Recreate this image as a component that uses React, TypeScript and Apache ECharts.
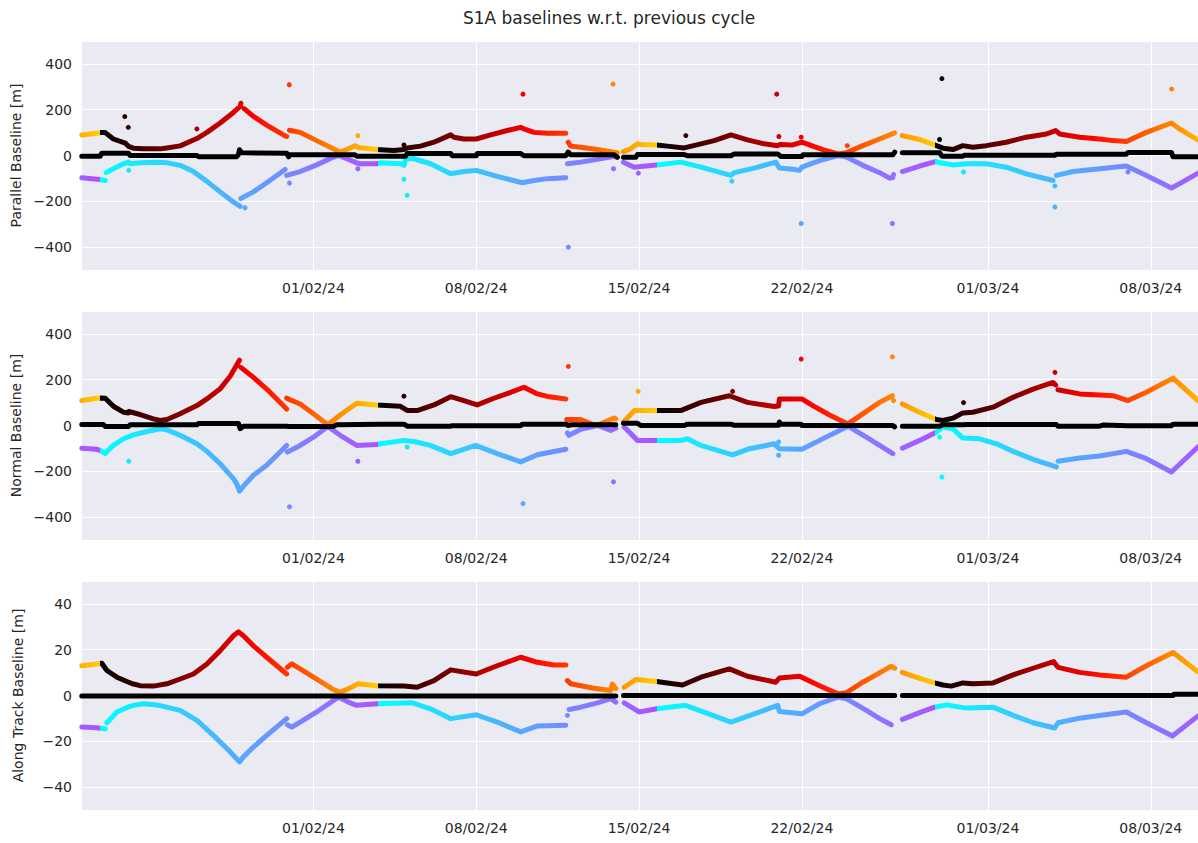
import React, { useEffect, useRef } from "react";
import * as echarts from "echarts";

// x values: days since 2024-01-01 (31 = 01/02/24)
const TITLE = "S1A baselines w.r.t. previous cycle";
const Y_NAMES = ["Parallel Baseline [m]", "Normal Baseline [m]", "Along Track Baseline [m]"];
const X_TICKS = [31, 38, 45, 52, 60, 67];
const X_MIN = 21.05;
const X_MAX = 69.03;
const Y_RANGES = [[-500, 500], [-500, 500], [-50, 50]];
const CYCLE_STARTS = [9.85, 21.82, 33.79, 45.76, 57.73, 69.7];

type Seg = number[][];

const PAR_POS: Seg[] = [
  [[21.04,90],[21.69,97],[21.83,100],[22.05,100],[22.40,72],[22.91,54],[23.05,40],[23.26,32],[23.69,29],[24.41,29],[24.70,33],[25.27,42],[25.99,74],[26.42,101],[26.99,142],[27.56,188],[27.85,214],[27.88,228]],
  [[28.02,205],[28.42,171],[28.99,133],[29.71,90],[29.85,83]],
  [[29.97,110],[30.43,101],[31.14,65],[31.86,29],[32.15,14],[32.43,26],[32.79,43],[32.93,35],[33.72,26],[33.88,25],[34.46,22],[34.89,26],[35.03,33],[35.60,41],[36.18,58],[36.90,90],[37.04,80],[37.47,72],[38.00,72],[38.62,90],[39.33,109],[39.91,123],[40.05,116],[40.48,101],[41.06,97],[41.85,97]],
  [[41.95,58],[42.06,41],[42.49,36],[43.21,26],[43.93,14],[44.07,12]],
  [[44.33,17],[44.64,29],[44.93,51],[45.07,48],[45.76,46],[46.22,41],[46.94,33],[47.66,51],[48.23,65],[48.95,90],[49.66,68],[50.38,51],[50.96,43],[51.04,48],[51.61,46],[52.00,58],[52.47,41],[52.90,26],[53.55,7],[53.91,12],[54.62,43],[55.34,72],[55.99,99]],
  [[56.32,87],[57.06,70],[57.78,43],[58.06,32],[58.49,26],[58.92,43],[59.35,36],[59.93,43],[60.79,58],[61.65,80],[62.51,94],[62.91,109],[63.08,94],[63.94,80],[64.80,72],[65.38,65],[65.95,61],[66.81,101],[67.89,142],[68.24,116],[69.02,68]],
];
const PAR_ZERO: Seg[] = [
  [[21.04,-3],[21.83,-3],[21.90,10],[23.05,10],[23.12,0],[25.99,0],[26.06,-5],[27.70,-5],[27.78,5],[27.82,25],[27.92,12],[29.85,10],[29.93,-6],[29.97,3],[32.79,3],[32.86,-3],[34.96,-3],[35.03,9],[36.90,9],[36.97,-1],[38.00,-1],[38.04,9],[39.91,9],[40.05,-1],[41.85,-1],[41.95,15],[42.06,3],[43.93,3],[44.07,-8]],
  [[44.33,-8],[44.86,-8],[44.93,4],[46.94,4],[47.08,-1],[48.95,-1],[49.09,7],[50.96,7],[51.10,-4],[52.00,-4],[52.05,3],[55.91,3],[55.99,15]],
  [[56.32,12],[57.92,12],[58.02,-3],[58.92,-3],[58.99,1],[62.88,1],[62.94,6],[65.95,6],[66.02,13],[67.89,13],[67.96,-6],[69.02,-6]],
];
const PAR_NEG: Seg[] = [
  [[21.04,-97],[21.69,-104],[21.76,-104],[22.05,-109]],
  [[22.09,-75],[22.40,-58],[22.83,-36],[23.05,-29],[23.12,-36],[23.55,-32],[24.27,-29],[24.70,-32],[25.27,-43],[25.84,-70],[26.42,-113],[26.99,-159],[27.56,-203],[27.85,-222]],
  [[27.88,-188],[28.42,-159],[28.99,-119],[29.78,-61]],
  [[29.85,-87],[30.43,-70],[31.14,-41],[31.86,-7],[32.07,0],[32.43,-14],[32.86,-32],[32.98,-36],[33.72,-36],[33.88,-32],[34.74,-36],[34.89,-43],[34.96,-17],[35.25,-12],[36.03,-36],[36.90,-80],[37.47,-70],[38.00,-65],[38.90,-91],[39.98,-119],[40.48,-109],[41.06,-101],[41.85,-97]],
  [[41.92,-36],[42.49,-29],[43.21,-17],[43.93,-3],[44.00,-7]],
  [[44.33,-29],[44.79,-51],[45.07,-48],[45.76,-41],[46.79,-29],[47.66,-51],[48.95,-87],[49.09,-75],[49.95,-55],[50.88,-29],[51.03,-55],[51.61,-60],[51.90,-65],[52.00,-51],[52.76,-22],[53.55,0],[53.91,-7],[54.62,-43],[55.34,-75],[55.77,-99],[55.91,-96]],
  [[56.32,-70],[57.06,-46],[57.78,-26],[57.92,-32],[58.49,-41],[59.07,-36],[59.93,-36],[60.79,-51],[61.65,-80],[62.80,-109]],
  [[62.94,-87],[63.66,-70],[64.80,-58],[65.95,-46],[66.81,-87],[67.89,-142],[68.24,-123],[69.02,-78]],
];
const PAR_OUT_POS = [[22.89,170],[23.04,123],[25.99,116],[29.96,309],[32.91,87],[34.89,46],[40.01,268],[43.88,312],[47.01,87],[50.92,268],[51.01,83],[51.97,80],[53.95,43],[58.02,336],[57.92,70],[67.90,290]];
const PAR_OUT_NEG = [[23.06,-65],[28.06,-228],[29.97,-120],[32.91,-58],[34.89,-104],[35.03,-174],[41.96,-400],[43.90,-58],[44.97,-77],[48.99,-112],[51.97,-297],[55.89,-297],[55.94,-83],[58.95,-72],[62.88,-133],[62.88,-225],[66.02,-72]];

const NOR_POS: Seg[] = [
  [[21.04,109],[21.69,119],[21.83,120],[22.05,119],[22.40,84],[22.83,58],[23.05,55],[23.06,61],[23.55,48],[24.12,29],[24.41,22],[24.70,26],[25.27,51],[25.99,87],[26.42,116],[26.99,160],[27.42,215],[27.82,285]],
  [[27.88,254],[28.42,210],[28.99,159],[29.85,72]],
  [[29.85,120],[29.93,115],[30.43,94],[31.00,51],[31.62,3],[32.15,46],[32.86,97],[33.72,90],[34.74,84],[35.03,66],[35.46,65],[36.18,90],[36.90,126],[37.47,109],[38.04,90],[38.76,119],[39.48,145],[40.05,167],[40.63,138],[41.06,127],[41.85,116]],
  [[41.89,26],[42.49,26],[43.06,3],[43.35,7],[43.93,33],[44.00,29]],
  [[44.33,14],[44.79,65],[45.76,65],[46.79,65],[47.66,101],[48.88,130],[49.66,101],[50.81,83],[51.00,85],[51.03,116],[52.00,116],[52.47,87],[53.19,46],[53.98,7],[54.62,51],[55.34,101],[55.89,130]],
  [[56.32,94],[57.06,58],[57.78,26],[58.06,22],[58.49,32],[58.92,55],[59.35,58],[60.22,80],[61.08,123],[61.94,159],[62.80,188],[62.91,177]],
  [[63.01,156],[63.94,138],[64.80,133],[65.38,130],[66.02,109],[66.81,145],[67.96,207],[69.02,109]],
];
const NOR_ZERO: Seg[] = [
  [[21.04,4],[21.97,4],[22.05,-4],[23.05,-4],[23.12,3],[25.99,3],[26.06,9],[27.78,9],[27.85,-14],[27.99,-3],[29.85,-3],[29.93,-4],[31.86,-4],[32.00,3],[33.88,5],[34.89,6],[35.03,-3],[36.90,-3],[36.97,-1],[39.91,-1],[39.98,6],[41.85,6],[41.95,0],[42.06,3],[44.00,3]],
  [[44.33,10],[44.93,10],[45.07,0],[46.94,0],[47.08,6],[48.95,6],[49.09,1],[51.00,1],[51.03,15],[51.10,6],[51.96,6],[52.00,0],[55.91,0],[55.99,-6]],
  [[56.32,-3],[57.92,-3],[58.06,3],[58.92,3],[59.07,4],[62.94,4],[63.01,-3],[64.80,-3],[64.95,2],[66.02,-1],[67.89,-1],[67.96,6],[69.02,6]],
];
const NOR_NEG: Seg[] = [
  [[21.04,-99],[21.69,-104],[21.83,-109],[22.05,-123],[22.12,-113],[22.40,-87],[22.83,-58],[23.26,-41],[23.84,-26],[24.41,-14],[24.70,-19],[25.27,-43],[25.99,-80],[26.42,-113],[26.99,-167],[27.56,-232],[27.70,-254],[27.82,-287],[27.99,-265],[28.42,-217],[28.99,-174],[29.85,-87]],
  [[29.88,-116],[30.43,-87],[31.00,-51],[31.62,-4],[32.15,-43],[32.86,-87],[33.72,-83],[33.88,-80],[34.89,-65],[35.32,-70],[36.03,-87],[36.90,-123],[37.97,-87],[38.90,-123],[39.91,-159],[40.63,-128],[41.06,-119],[41.85,-104]],
  [[41.92,-32],[41.99,-43],[42.49,-17],[43.21,0],[43.78,-22],[44.00,-12]],
  [[44.36,-7],[44.93,-65],[45.76,-65],[46.79,-65],[47.08,-58],[47.66,-87],[49.02,-128],[49.66,-104],[50.81,-80],[51.03,-101],[52.00,-104],[52.76,-65],[53.98,-3],[54.77,-51],[55.34,-87],[55.91,-123]],
  [[56.32,-99],[57.06,-65],[57.78,-29],[58.06,-7],[58.49,-14],[58.92,-55],[59.64,-58],[60.36,-80],[61.08,-113],[61.94,-148],[62.94,-181]],
  [[63.01,-156],[63.94,-142],[64.80,-133],[65.95,-113],[66.81,-145],[67.89,-203],[69.02,-94]],
];
const NOR_OUT_POS = [[34.89,128],[41.96,258],[44.96,149],[49.02,149],[51.97,290],[55.89,300],[55.94,109],[58.95,100],[62.88,232]];
const NOR_OUT_NEG = [[23.06,-156],[29.97,-355],[32.91,-156],[35.03,-94],[40.01,-341],[43.90,-246],[51.00,-72],[51.00,-130],[58.02,-225],[57.92,-51]];

const ALT_POS: Seg[] = [
  [[21.04,13.0],[21.69,13.8],[21.90,14.1],[22.12,10.9],[22.55,8.0],[22.98,6.1],[23.26,5.0],[23.55,4.3],[24.12,4.1],[24.70,5.1],[25.27,7.2],[25.84,9.4],[26.42,13.8],[26.99,19.6],[27.56,26.1],[27.78,27.8],[27.99,26.1],[28.42,21.7],[28.99,16.7],[29.85,9.4]],
  [[29.88,12.3],[30.07,13.8],[30.43,11.6],[31.14,7.2],[31.86,2.6],[32.15,1.4],[32.50,2.9],[32.93,5.1],[33.72,4.3],[34.89,4.1],[35.46,3.6],[36.18,6.5],[36.90,11.2],[38.00,9.4],[38.90,13.0],[39.91,16.7],[40.63,14.5],[41.34,13.3],[41.85,13.3]],
  [[41.92,6.5],[42.06,5.1],[43.06,3.2],[43.78,2.2],[43.85,5.0],[44.00,3.0]],
  [[44.36,3.6],[44.86,7.0],[45.76,6.1],[46.22,5.5],[46.87,4.6],[47.66,8.0],[48.88,11.6],[49.66,8.4],[50.88,5.8],[51.03,7.6],[51.90,8.4],[52.76,4.3],[53.55,0.7],[53.91,1.2],[54.62,5.8],[55.34,9.9],[55.84,12.8],[55.99,11.9]],
  [[56.32,10.1],[57.06,7.5],[57.71,5.5],[58.06,4.6],[58.42,4.1],[58.92,5.5],[59.35,5.1],[60.22,5.5],[61.08,9.0],[61.94,11.9],[62.82,14.8],[63.01,12.3],[63.94,10.1],[64.80,9.0],[65.95,8.0],[66.81,13.0],[67.96,18.8],[69.02,10.4]],
];
const ALT_ZERO: Seg[] = [
  [[21.04,-0.2],[44.00,-0.2]],
  [[44.33,0],[55.99,0]],
  [[56.32,0],[67.96,0],[68.00,0.6],[69.02,0.6]],
];
const ALT_NEG: Seg[] = [
  [[21.04,-13.8],[21.69,-14.1],[21.83,-14.3],[22.05,-14.5]],
  [[22.12,-11.9],[22.55,-7.2],[22.98,-5.2],[23.26,-4.3],[23.69,-3.6],[24.27,-4.1],[25.27,-6.5],[25.99,-10.9],[26.70,-17.4],[27.42,-24.6],[27.82,-29.0],[27.99,-26.8],[28.42,-22.5],[28.99,-17.4],[29.85,-10.1]],
  [[29.88,-12.8],[30.07,-13.8],[30.43,-11.6],[31.14,-7.2],[32.07,-0.7],[32.50,-2.9],[32.86,-4.3],[33.72,-3.6],[35.25,-3.2],[36.03,-5.8],[36.90,-10.1],[38.00,-8.4],[38.90,-11.6],[39.91,-15.9],[40.63,-13.3],[41.85,-13.0]],
  [[41.99,-6.1],[42.49,-5.1],[43.21,-3.2],[43.78,-1.4],[44.00,-2.9]],
  [[44.36,-3.2],[45.00,-7.2],[45.76,-5.8],[47.00,-4.3],[48.95,-11.6],[49.95,-8.0],[50.96,-4.3],[51.03,-7.0],[52.00,-8.0],[52.76,-3.6],[53.55,-0.7],[53.91,-1.4],[54.77,-6.5],[55.34,-10.1],[55.84,-12.8]],
  [[56.32,-10.4],[57.06,-7.5],[57.71,-5.1],[58.21,-4.1],[59.07,-5.5],[60.22,-5.1],[61.08,-8.7],[61.94,-11.9],[62.87,-14.2],[63.01,-11.9],[63.94,-9.9],[64.80,-8.7],[65.95,-7.2],[66.81,-11.9],[67.93,-17.7],[69.02,-9.0]],
];
const ALT_OUT_POS: number[][] = [];
const ALT_OUT_NEG = [[41.92,-8.7]];

const PANELS = [
  { pos: PAR_POS, zero: PAR_ZERO, neg: PAR_NEG, outPos: PAR_OUT_POS, outNeg: PAR_OUT_NEG },
  { pos: NOR_POS, zero: NOR_ZERO, neg: NOR_NEG, outPos: NOR_OUT_POS, outNeg: NOR_OUT_NEG },
  { pos: ALT_POS, zero: ALT_ZERO, neg: ALT_NEG, outPos: ALT_OUT_POS, outNeg: ALT_OUT_NEG },
];

const GRID_TOPS = [41, 311, 581];
const GRID_H = 229;
const FONT = "DejaVu Sans";
const TEXT = "#262626";

const clamp = (v: number) => Math.max(0, Math.min(1, v));
const rgb = (r: number, g: number, b: number) =>
  `rgb(${Math.round(clamp(r) * 255)},${Math.round(clamp(g) * 255)},${Math.round(clamp(b) * 255)})`;
const hotColor = (p: number) => {
  const x = p * 0.66;
  return rgb(x / 0.365, (x - 0.365) / 0.365, (x - 0.73) / 0.27);
};
const coolColor = (p: number) => {
  const x = p * 0.68;
  return rgb(x, 1 - x, 1);
};
const makePieces = (cmap: (p: number) => string) => {
  const out: any[] = [];
  for (let i = 0; i < CYCLE_STARTS.length - 1; i++) {
    const s = CYCLE_STARTS[i];
    const e = CYCLE_STARTS[i + 1];
    const N = 60;
    for (let k = 0; k < N; k++) {
      out.push({ gte: s + ((e - s) * k) / N, lt: s + ((e - s) * (k + 1)) / N, color: cmap((k + 0.5) / N) });
    }
  }
  return out;
};
const joinSegs = (segs: Seg[]) => {
  const out: any[] = [];
  segs.forEach((s, i) => {
    if (i > 0) out.push([s[0][0], "-"]);
    s.forEach((p) => out.push(p));
  });
  return out;
};
const fmtDay = (d: number) => {
  const dt = new Date(Date.UTC(2024, 0, 1) + Math.round(d) * 86400000);
  const dd = String(dt.getUTCDate()).padStart(2, "0");
  const mm = String(dt.getUTCMonth() + 1).padStart(2, "0");
  const yy = String(dt.getUTCFullYear() % 100).padStart(2, "0");
  return `${dd}/${mm}/${yy}`;
};
const fmtY = (v: number) => (v < 0 ? "\u2212" + Math.abs(v) : String(v));

export default function App() {
  const ref = useRef<HTMLDivElement>(null);
  useEffect(() => {
    if (!ref.current) return;
    const chart = echarts.init(ref.current, null, { renderer: "svg" });
    const grid: any[] = [];
    const xAxis: any[] = [];
    const yAxis: any[] = [];
    const series: any[] = [];
    const hotIdx: number[] = [];
    const coolIdx: number[] = [];
    PANELS.forEach((pn, i) => {
      grid.push({
        left: 82, right: 0, top: GRID_TOPS[i], height: GRID_H,
        show: true, backgroundColor: "#EAEAF2", borderWidth: 0,
      });
      xAxis.push({
        type: "value", gridIndex: i, min: X_MIN, max: X_MAX,
        axisLine: { show: false },
        axisTick: { show: false, customValues: X_TICKS },
        axisLabel: {
          customValues: X_TICKS, formatter: (v: number) => fmtDay(v),
          fontSize: 14, fontFamily: FONT, color: TEXT, margin: 11,
        },
        splitLine: { show: true, lineStyle: { color: "#ffffff", width: 1 } },
      });
      yAxis.push({
        type: "value", gridIndex: i, min: Y_RANGES[i][0], max: Y_RANGES[i][1],
        axisLine: { show: false }, axisTick: { show: false },
        axisLabel: {
          showMinLabel: false, showMaxLabel: false, formatter: (v: number) => fmtY(v),
          fontSize: 14, fontFamily: FONT, color: TEXT, margin: 10,
        },
        splitLine: { show: true, lineStyle: { color: "#ffffff", width: 1 } },
        name: Y_NAMES[i], nameLocation: "middle", nameGap: 57,
        nameTextStyle: { fontSize: 14, fontFamily: FONT, color: TEXT },
      });
      const lineBase = {
        type: "line", xAxisIndex: i, yAxisIndex: i, showSymbol: false, silent: true,
        connectNulls: false, animation: false,
      };
      hotIdx.push(series.length);
      series.push({ ...lineBase, name: `pos${i}`, data: joinSegs(pn.pos),
        lineStyle: { width: 5, cap: "round", join: "round" } });
      coolIdx.push(series.length);
      series.push({ ...lineBase, name: `neg${i}`, data: joinSegs(pn.neg),
        lineStyle: { width: 5, cap: "round", join: "round" } });
      series.push({ ...lineBase, name: `zero${i}`, data: joinSegs(pn.zero),
        lineStyle: { width: 5, cap: "round", join: "round", color: "#000000" }, itemStyle: { color: "#000" } });
      hotIdx.push(series.length);
      series.push({ type: "scatter", xAxisIndex: i, yAxisIndex: i, silent: true, symbolSize: 5,
        data: pn.outPos, itemStyle: { opacity: 1 } });
      coolIdx.push(series.length);
      series.push({ type: "scatter", xAxisIndex: i, yAxisIndex: i, silent: true, symbolSize: 5,
        data: pn.outNeg, itemStyle: { opacity: 1 } });
    });
    chart.setOption({
      animation: false,
      backgroundColor: "#ffffff",
      title: {
        text: TITLE, left: 604, top: 4, textAlign: "center",
        textStyle: { fontSize: 17, fontWeight: "normal", fontFamily: FONT, color: TEXT },
      },
      grid, xAxis, yAxis, series,
      visualMap: [
        { type: "piecewise", show: false, dimension: 0, seriesIndex: hotIdx, pieces: makePieces(hotColor) },
        { type: "piecewise", show: false, dimension: 0, seriesIndex: coolIdx, pieces: makePieces(coolColor) },
      ],
    });
    return () => chart.dispose();
  }, []);
  return (
    <div
      ref={ref}
      style={{ position: "fixed", left: 0, top: 0, width: 1198, height: 843, background: "#fff" }}
    />
  );
}
